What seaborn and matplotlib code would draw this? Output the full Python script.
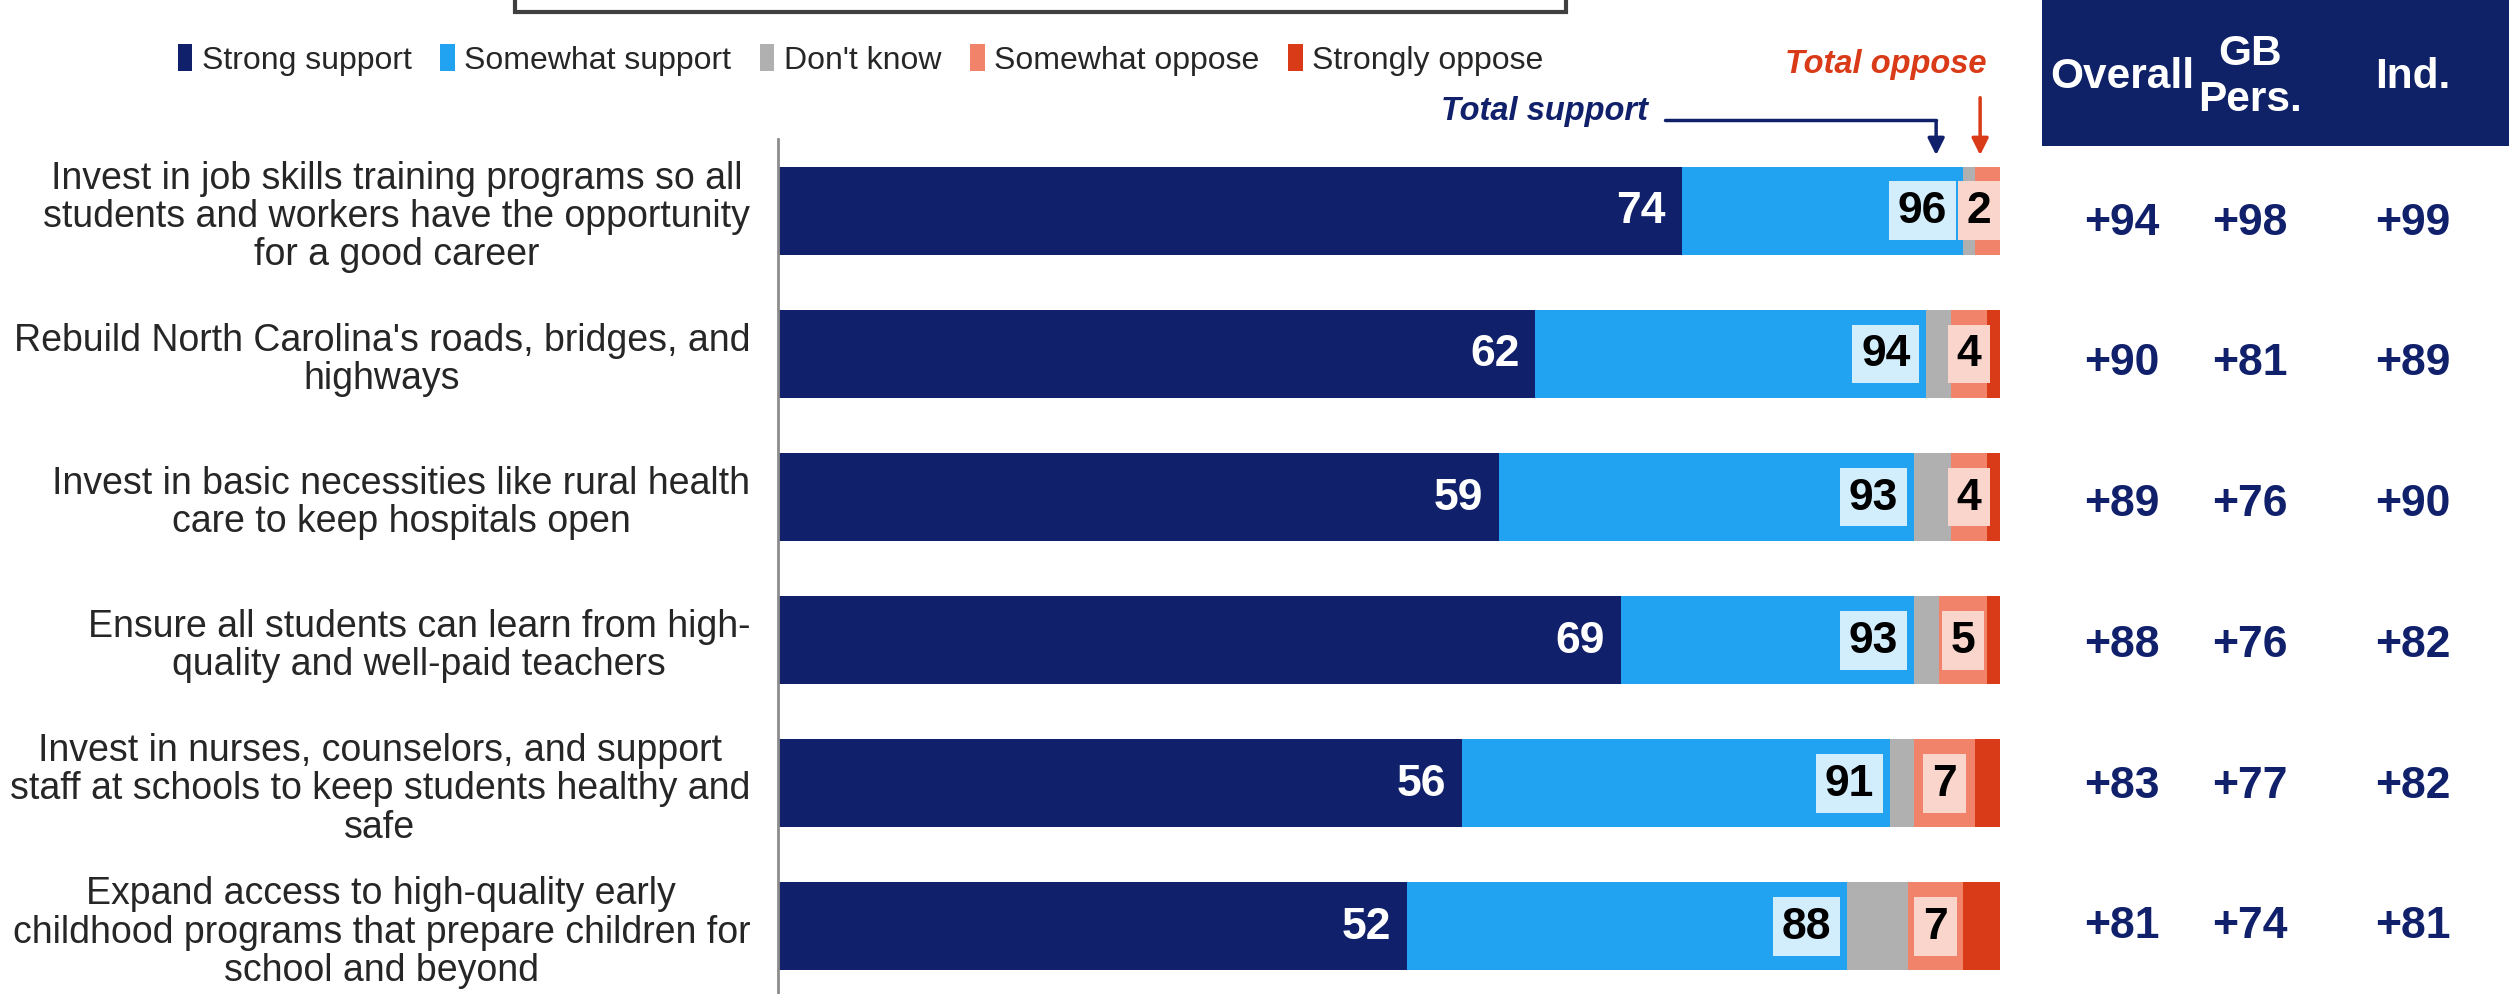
import numpy as np
import pandas as pd
import seaborn as sns
import matplotlib.pyplot as plt
from matplotlib.patches import Rectangle, Patch
from matplotlib import transforms

#----------------------
# Data
#----------------------

items = [
    "Invest in job skills training programs so all\nstudents and workers have the opportunity\nfor a good career",
    "Rebuild North Carolina's roads, bridges, and\nhighways",
    "Invest in basic necessities like rural health\ncare to keep hospitals open",
    "Ensure all students can learn from high-\nquality and well-paid teachers",
    "Invest in nurses, counselors, and support\nstaff at schools to keep students healthy and\nsafe",
    "Expand access to high-quality early\nchildhood programs that prepare children for\nschool and beyond",
]
strong_support = [74, 62, 59, 69, 56, 51.5]
somewhat_support = [23, 32, 34, 24, 35, 36]
dont_know = [1, 2, 3, 2, 2, 5]
somewhat_oppose = [2, 3, 3, 4, 5, 4.5]
strongly_oppose = [0, 1, 1, 1, 2, 3]
total_support = [96, 94, 93, 93, 91, 88]
total_oppose = [2, 4, 4, 5, 7, 7]

table_cols = ["Overall", "GB\nPers.", "Ind."]
overall = ["+94", "+90", "+89", "+88", "+83", "+81"]
gb_pers = ["+98", "+81", "+76", "+76", "+77", "+74"]
ind = ["+99", "+89", "+90", "+82", "+82", "+81"]

series_names = ["Strong support", "Somewhat support", "Don't know",
                "Somewhat oppose", "Strongly oppose"]
colors = ["#10206A", "#21A3F1", "#B0B0B0", "#F0836A", "#D93A17"]
navy = "#10206A"
red = "#D93A17"

#----------------------
# Cumulative table
#----------------------

df = pd.DataFrame({
    "item": items,
    "s1": strong_support,
    "s2": somewhat_support,
    "s3": dont_know,
    "s4": somewhat_oppose,
    "s5": strongly_oppose,
})
segs = ["s1", "s2", "s3", "s4", "s5"]
cum = df[segs].cumsum(axis=1)
for s in segs:
    df["cum_" + s] = cum[s]

#----------------------
# Figure
#----------------------

sns.set_style("white")
plt.rcParams['font.family'] = ['Liberation Sans', 'DejaVu Sans']

fig = plt.figure(figsize=(25.09, 9.95), dpi=100)
ax = fig.add_axes([0.310, -0.004, 0.487, 0.863])

# draw longest cumulative first so shorter ones sit on top
for s, c in zip(reversed(segs), reversed(colors)):
    sns.barplot(data=df, x="cum_" + s, y="item", color=c, orient="h",
                width=0.615, ax=ax, linewidth=0, saturation=1)

ax.set_xlim(0, 100)
ax.set_ylim(5.5, -0.5)
ax.set_xlabel("")
ax.set_ylabel("")
ax.set_xticks([])
ax.set_yticks(range(len(items)))
ax.set_yticklabels(items, fontsize=27, linespacing=1.08)
for t in ax.get_yticklabels():
    t.set_multialignment("center")
ax.set_yticks(np.arange(-0.5, len(items)), minor=True)
ax.tick_params(axis="y", which="major", length=0, pad=20)
ax.tick_params(axis="y", which="minor", length=8, width=2, color="#8C8C8C", direction="out")
for side in ["top", "right", "bottom"]:
    ax.spines[side].set_visible(False)
ax.spines["left"].set_color("#8C8C8C")
ax.spines["left"].set_linewidth(2)

#----------------------
# Bar labels
#----------------------

for i in range(len(items)):
    s1 = df.loc[i, "cum_s1"]
    s2 = df.loc[i, "cum_s2"]
    s3 = df.loc[i, "cum_s3"]
    s4 = df.loc[i, "cum_s4"]
    ax.text(s1 - 1.3, i, f"{strong_support[i]:.0f}", ha="right", va="center",
            color="white", fontsize=32, fontweight="bold")
    ax.text(s2 - 1.3, i, str(total_support[i]), ha="right", va="center",
            color="black", fontsize=32, fontweight="bold",
            bbox=dict(boxstyle="square,pad=0.2", facecolor="#D2EDFC", edgecolor="none"))
    ox = min((s3 + s4) / 2, 98.3)
    ax.text(ox, i, str(total_oppose[i]), ha="center", va="center",
            color="black", fontsize=32, fontweight="bold",
            bbox=dict(boxstyle="square,pad=0.2", facecolor="#FAD5CC", edgecolor="none"))

#----------------------
# Total support / oppose callouts
#----------------------

ax.text(71.2, -0.70, "Total support", ha="right", va="center", color=navy,
        fontsize=23.5, fontweight="bold", fontstyle="italic", clip_on=False)
ax.plot([72.6, 94.8], [-0.633, -0.633], color=navy, lw=2.5, clip_on=False)
ax.annotate("", xy=(94.8, -0.37), xytext=(94.8, -0.645),
            arrowprops=dict(arrowstyle="-|>", color=navy, lw=2.5, mutation_scale=25),
            annotation_clip=False)
ax.text(90.7, -1.03, "Total oppose", ha="center", va="center", color=red,
        fontsize=23.5, fontweight="bold", fontstyle="italic", clip_on=False)
ax.annotate("", xy=(98.4, -0.37), xytext=(98.4, -0.81),
            arrowprops=dict(arrowstyle="-|>", color=red, lw=2.5, mutation_scale=25),
            annotation_clip=False)

#----------------------
# Right-hand table
#----------------------

fig.patches.append(Rectangle((2042 / 2509, 1 - 147 / 995), 1 - 2042 / 2509, 147 / 995 + 0.01,
                             transform=fig.transFigure, facecolor="#0F2167",
                             edgecolor="none", zorder=0))
col_x = [0.8457, 0.8967, 0.9617]
for x, h in zip(col_x, table_cols):
    fig.text(x, 0.9226, h, ha="center", va="center", color="white",
             fontsize=30.5, fontweight="bold", linespacing=1.2)

trans = transforms.blended_transform_factory(fig.transFigure, ax.transData)
for x, vals in zip(col_x, [overall, gb_pers, ind]):
    for i, v in enumerate(vals):
        ax.text(x, i + 0.08 - 0.017 * i, v, transform=trans, ha="center", va="center",
                color=navy, fontsize=32, fontweight="bold", clip_on=False)

#----------------------
# Top box and legend
#----------------------

fig.patches.append(Rectangle((515 / 2509, 1 - 13 / 995), (1566 - 515) / 2509, 0.05,
                             transform=fig.transFigure, facecolor="white",
                             edgecolor="#404040", lw=3))

handles = [Patch(facecolor=c, edgecolor="none") for c in colors]
fig.legend(handles, series_names, loc="center", bbox_to_anchor=(0.343, 0.939),
           ncol=5, frameon=False, fontsize=23, handlelength=0.45, handleheight=0.9,
           handletextpad=0.3, columnspacing=0.9)

plt.savefig("out.png", dpi=100)
